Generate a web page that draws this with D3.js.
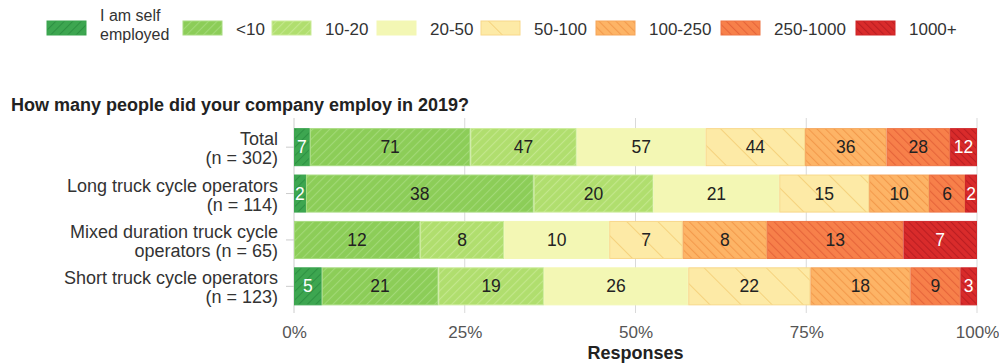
<!DOCTYPE html>
<html><head><meta charset="utf-8">
<script src="https://cdn.jsdelivr.net/npm/d3@7"></script>
<style>body{margin:0;background:#fff;font-family:"Liberation Sans",Arial,sans-serif;}</style>
</head><body><svg id="c" width="999" height="363"></svg>
<script>
const categories = ["Total\n(n = 302)", "Long truck cycle operators\n(n = 114)", "Mixed duration truck cycle\noperators (n = 65)", "Short truck cycle operators\n(n = 123)"];
const seriesNames = ["I am self\nemployed", "<10", "10-20", "20-50", "50-100", "100-250", "250-1000", "1000+"];
const total     = [7, 71, 47, 57, 44, 36, 28, 12];
const longOps   = [2, 38, 20, 21, 15, 10, 6, 2];
const mixedOps  = [0, 12, 8, 10, 7, 8, 13, 7];
const shortOps  = [5, 21, 19, 26, 22, 18, 9, 3];
const tickLabels = ["0%", "25%", "50%", "75%", "100%"];
const title = "How many people did your company employ in 2019?";
const xTitle = "Responses";

const rows = [total, longOps, mixedOps, shortOps];
const styles = [
  {fill:"#3da650", stripe:"#2d9142", stroke:"#3da650", dir:"/", gap:6, text:"#fff"},
  {fill:"#8ccd58", stripe:"#a2d977", stroke:"#a8db80", dir:"/", gap:6, text:"#222"},
  {fill:"#b0de6e", stripe:"#c3e78c", stroke:"#cbeb9a", dir:"/", gap:6, text:"#222"},
  {fill:"#f3f7b4", stripe:null, stroke:"#f3f7b4", dir:null, gap:0, text:"#222"},
  {fill:"#fdeaa6", stripe:"#f5d27e", stroke:"#f8d88a", dir:"\\", gap:22, text:"#222"},
  {fill:"#fdb466", stripe:"#f39a4c", stroke:"#f5a55a", dir:"\\", gap:6, text:"#222"},
  {fill:"#f7804a", stripe:"#e6653a", stroke:"#ee7444", dir:"\\", gap:6, text:"#222"},
  {fill:"#d92b2b", stripe:"#bb1e22", stroke:"#cf2628", dir:"\\", gap:5, text:"#fff"}
];

const svg = d3.select("#c");
const defs = svg.append("defs");
styles.forEach((s,i)=>{
  if(!s.dir) return;
  const p = defs.append("pattern").attr("id","pat"+i).attr("patternUnits","userSpaceOnUse")
    .attr("width",s.gap).attr("height",s.gap)
    .attr("patternTransform","rotate("+(s.dir==="/"?45:-45)+")");
  p.append("rect").attr("width",s.gap).attr("height",s.gap).attr("fill",s.fill);
  p.append("line").attr("x1",0).attr("y1",0).attr("x2",0).attr("y2",s.gap)
    .attr("stroke",s.stripe).attr("stroke-width",s.gap>10?2:2.2);
});
const fillOf = i => styles[i].dir ? "url(#pat"+i+")" : styles[i].fill;

const x = d3.scaleLinear().domain([0,1]).range([294,977]);
const y = d3.scaleBand().domain(categories).range([123.5,310]).paddingInner(0.18).paddingOuter(0.1);

// grid
const g = svg.append("g");
g.selectAll("line.grid").data([0.25,0.5,0.75,1]).join("line")
  .attr("x1",d=>x(d)).attr("x2",d=>x(d)).attr("y1",118).attr("y2",313)
  .attr("stroke","#d9d9d9").attr("stroke-width",1);
g.append("line").attr("x1",x(0)).attr("x2",x(0)).attr("y1",118).attr("y2",313).attr("stroke","#cccccc");
g.selectAll("line.yt").data(categories).join("line")
  .attr("x1",x(0)-8).attr("x2",x(0)).attr("y1",d=>y(d)+y.bandwidth()/2).attr("y2",d=>y(d)+y.bandwidth()/2)
  .attr("stroke","#cccccc");

// bars
rows.forEach((vals,ri)=>{
  const sum = d3.sum(vals);
  let acc = 0;
  const cat = categories[ri];
  vals.forEach((v,si)=>{
    const x0 = x(acc/sum), x1 = x((acc+v)/sum);
    acc += v;
    if(v===0) return;
    svg.append("rect").attr("x",x0+0.5).attr("y",y(cat)+0.5).attr("width",Math.max(0,x1-x0-1)).attr("height",y.bandwidth()-1)
      .attr("fill",fillOf(si)).attr("stroke",styles[si].stroke).attr("stroke-width",1);
    svg.append("text").attr("x",(x0+x1)/2).attr("y",y(cat)+y.bandwidth()/2+6)
      .attr("text-anchor","middle").attr("font-size",17.5).attr("fill",styles[si].text).text(v);
  });
});

// y labels
categories.forEach(c=>{
  const lines = c.split("\n");
  const t = svg.append("text").attr("text-anchor","end").attr("font-size",18).attr("fill","#333");
  const mid = y(c)+y.bandwidth()/2;
  lines.forEach((l,i)=>{
    t.append("tspan").attr("x",278).attr("y",mid - 2 + i*19).text(l);
  });
});

// x axis ticks
const ax = svg.append("g").attr("transform","translate(0,313)")
  .call(d3.axisBottom(x).tickValues([0,0.25,0.5,0.75,1]).tickFormat((d,i)=>tickLabels[i]).tickSize(0).tickPadding(13));
ax.select(".domain").remove();
ax.selectAll("text").attr("font-size",17).attr("fill","#555").attr("font-family","Liberation Sans, Arial, sans-serif");
svg.append("text").attr("x",x(0.5)).attr("y",359).attr("text-anchor","middle").attr("font-weight","bold")
  .attr("font-size",18).attr("fill","#222").text(xTitle);

// title
svg.append("text").attr("x",11).attr("y",111).attr("font-weight","bold").attr("font-size",18).attr("fill","#222").text(title);

// legend
const legX = [47,183,272,377,481,596,721,856];
seriesNames.forEach((n,i)=>{
  svg.append("rect").attr("x",legX[i]).attr("y",21).attr("width",39).attr("height",14)
    .attr("fill",fillOf(i)).attr("stroke",styles[i].stroke);
  const lines = n.split("\n");
  if(lines.length===1){
    svg.append("text").attr("font-size",17).attr("fill","#333").attr("x",legX[i]+53).attr("y",35).text(n);
  } else {
    lines.forEach((l,j)=>svg.append("text").attr("font-size",16).attr("fill","#333")
      .attr("x",legX[i]+53).attr("y",21+j*19).text(l));
  }
});
</script></body></html>
